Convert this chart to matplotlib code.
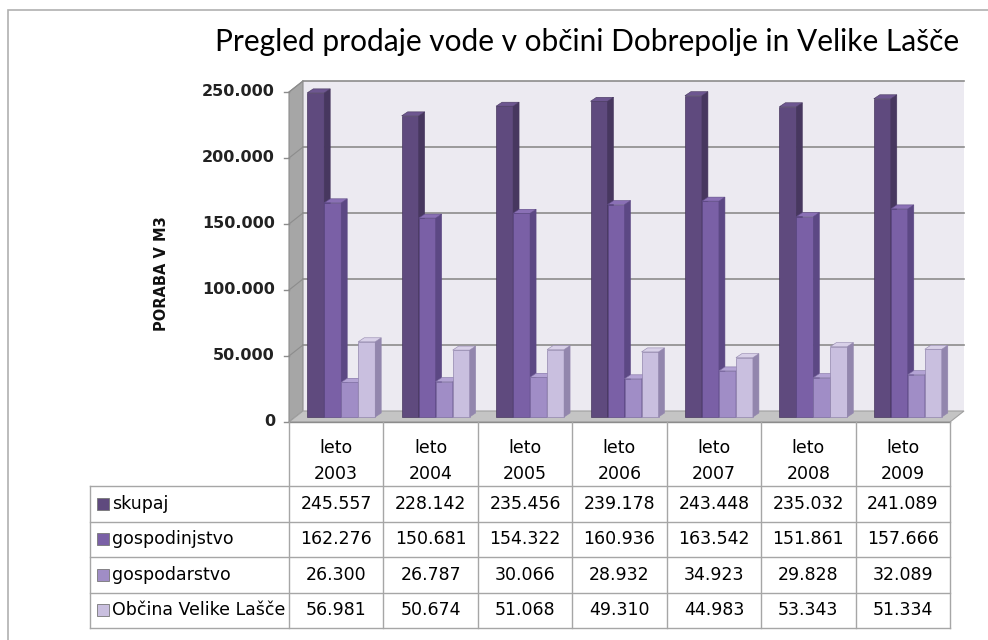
import matplotlib.pyplot as plt
from matplotlib.patches import Rectangle, Polygon
from matplotlib.lines import Line2D

years = ['2003', '2004', '2005', '2006', '2007', '2008', '2009']
series = ['skupaj', 'gospodinjstvo', 'gospodarstvo', 'Občina Velike Lašče']
skupaj = [245557, 228142, 235456, 239178, 243448, 235032, 241089]
gospodinjstvo = [162276, 150681, 154322, 160936, 163542, 151861, 157666]
gospodarstvo = [26300, 26787, 30066, 28932, 34923, 29828, 32089]
obcina = [56981, 50674, 51068, 49310, 44983, 53343, 51334]
yticks = [0, 50000, 100000, 150000, 200000, 250000]

values = [skupaj, gospodinjstvo, gospodarstvo, obcina]
front = ['#5f4a7e', '#7a60a6', '#a08dc6', '#c9bfdf']
side = ['#47375f', '#5c4884', '#7d6ca2', '#9286ad']
top = ['#6d5690', '#8a70b5', '#b3a3d4', '#d8d0e8']

W, H = 988, 640
fig = plt.figure(figsize=(W / 100, H / 100), dpi=100)
fig.patch.set_facecolor('white')


def fx(px):
    return px / W


def fy(py):
    return 1 - py / H


def fmt(v):
    return f'{v:,}'.replace(',', '.')


# outer frame
fig.add_artist(Rectangle((fx(8), fy(660)), fx(1000) - fx(8), fy(10) - fy(660),
                         transform=fig.transFigure, fill=False, ec='#b0b0b0', lw=1.2))

# plot area: front plane, x from 289 to 950 px, y 0 at 422 px, 250k at 92 px
L, R, B, T = 289, 950, 422, 92
ax = fig.add_axes([fx(L), fy(B), fx(R) - fx(L), fy(T) - fy(B)])
n = len(years)
ax.set_xlim(-0.5, n - 0.5)
ax.set_ylim(0, 250000)
ax.axis('off')
px = n / (R - L)           # data units per pixel in x
py = 250000 / (B - T)      # data units per pixel in y

# 3D walls
dxw, dyw = 14 * px, 11 * py
x0, x1 = -0.5, n - 0.5
ax.add_patch(Rectangle((x0 + dxw, dyw), x1 - x0, 250000, fc='#ecEAf1', ec='none', clip_on=False, zorder=0))
ax.add_patch(Polygon([(x0, 0), (x0, 250000), (x0 + dxw, 250000 + dyw), (x0 + dxw, dyw)],
                     fc='#a6a6a6', ec='#8c8c8c', lw=0.8, clip_on=False, zorder=1))
ax.add_patch(Polygon([(x0, 0), (x1, 0), (x1 + dxw, dyw), (x0 + dxw, dyw)],
                     fc='#c4c4c4', ec='#a0a0a0', lw=0.8, clip_on=False, zorder=1))
for v in yticks[1:]:
    ax.plot([x0 + dxw, x1 + dxw], [v + dyw, v + dyw], color='#8c8c8c', lw=1.2, clip_on=False, zorder=1)
    ax.plot([x0, x0 + dxw], [v, v], color='#8c8c8c', lw=0, clip_on=False, zorder=1)
    ax.plot([x0, x0 + dxw], [v, v + dyw], color='#8c8c8c', lw=0.8, clip_on=False, zorder=1)
for v in yticks:
    ax.plot([x0 - 5 * px, x0], [v, v], color='#8c8c8c', lw=1, clip_on=False)
    ax.text(x0 - 14 * px, v, fmt(v) if v else '0', ha='right', va='center',
            fontsize=11.5, fontweight='bold', color='#222222', family='DejaVu Sans')
ax.plot([x0, x1], [0, 0], color='#8c8c8c', lw=1, clip_on=False, zorder=2)

# bars
bw = 17 * px
bx, by = 5 * px, 5 * py
ddx, ddy = 6 * px, 4 * py
for k, vals in enumerate(values):
    xs = [i + (k - 2) * bw + bx for i in range(n)]
    ax.bar(xs, vals, width=bw, bottom=by, align='edge', color=front[k],
           edgecolor=side[k], lw=0.5, zorder=3 + k, clip_on=False)
    for xl, v in zip(xs, vals):
        xr = xl + bw
        ax.add_patch(Polygon([(xr, by), (xr, by + v), (xr + ddx, by + v + ddy), (xr + ddx, by + ddy)],
                             fc=side[k], ec=side[k], lw=0.4, zorder=3 + k, clip_on=False))
        ax.add_patch(Polygon([(xl, by + v), (xr, by + v), (xr + ddx, by + v + ddy), (xl + ddx, by + v + ddy)],
                             fc=top[k], ec=side[k], lw=0.4, zorder=3 + k, clip_on=False))

# title and axis label
fig.text(fx(587), fy(42), 'Pregled prodaje vode v občini Dobrepolje in Velike Lašče',
         ha='center', va='center', fontsize=21.5, family='Lato', color='#000000')
fig.text(fx(162), fy(274), 'PORABA V M3', rotation=90, ha='center', va='center',
         fontsize=10.5, fontweight='bold', family='DejaVu Sans', color='#111111')

# data table
grid = '#a6a6a6'
cw = (R - L) / n
row_tops = [422, 486, 521.5, 557, 592.5, 628]
tx = fig.transFigure


def hline(y, xa, xb):
    fig.add_artist(Line2D([fx(xa), fx(xb)], [fy(y), fy(y)], color=grid, lw=1, transform=tx))


def vline(x, ya, yb):
    fig.add_artist(Line2D([fx(x), fx(x)], [fy(ya), fy(yb)], color=grid, lw=1, transform=tx))


for y in row_tops[1:]:
    hline(y, 90, R)
vline(90, row_tops[1], row_tops[-1])
for i in range(n + 1):
    vline(L + i * cw, 422, row_tops[-1])

for i, yr in enumerate(years):
    fig.text(fx(L + (i + 0.5) * cw), fy(461), f'leto\n{yr}', ha='center', va='center',
             fontsize=12.5, family='DejaVu Sans', linespacing=1.55, color='#000000')

for r, (name, vals) in enumerate(zip(series, values)):
    yc = (row_tops[r + 1] + row_tops[r + 2]) / 2
    fig.add_artist(Rectangle((fx(97), fy(yc + 6)), fx(12), fy(0) - fy(12), transform=tx,
                             fc=front[r], ec='#777777', lw=0.6))
    fig.text(fx(112), fy(yc), name, ha='left', va='center', fontsize=12.5,
             family='DejaVu Sans', color='#000000')
    for i, v in enumerate(vals):
        fig.text(fx(L + (i + 0.5) * cw), fy(yc), fmt(v), ha='center', va='center',
                 fontsize=12.5, family='DejaVu Sans', color='#000000')

fig.savefig('out.png', dpi=100)
